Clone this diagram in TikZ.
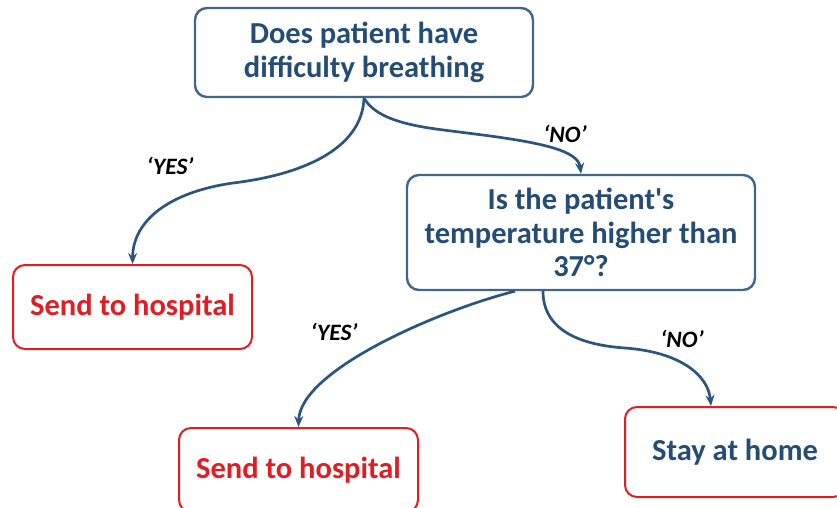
\documentclass[tikz,border=0pt]{standalone}
\usepackage{fontspec}
\setmainfont{Carlito}
\usetikzlibrary{arrows.meta}
\definecolor{qblue}{RGB}{36,76,116}
\definecolor{qedge}{RGB}{66,102,138}
\definecolor{ared}{RGB}{222,30,36}
\definecolor{aline}{RGB}{44,84,124}
\begin{document}
\begin{tikzpicture}[x=1pt,y=-1pt,
  question/.style={draw=qedge, line width=2.4pt, rounded corners=12pt, text=qblue,
    font=\fontsize{30.5}{33.5}\selectfont\bfseries, align=center, inner sep=0pt},
  outcome/.style={draw=ared, line width=2pt, rounded corners=12pt,
    font=\fontsize{30.5}{33.5}\selectfont\bfseries, inner sep=0pt},
  link/.style={draw=aline, line width=2.7pt, -{Stealth[length=11pt,width=9pt]}},
  answer/.style={font=\fontsize{23.5}{26}\selectfont\bfseries\itshape}]
\useasboundingbox (0,0) rectangle (837,508);

% decision boxes
\node[question, minimum width=338pt, minimum height=89pt] (breath) at (364,52.5)
  {Does patient have\\difficulty breathing};
\node[question, minimum width=348pt, minimum height=115pt] (temp) at (581,232.5)
  {Is the patient\textquotesingle s\\temperature higher than\\37°?};

% outcomes
\node[outcome, text=ared, minimum width=239pt, minimum height=84pt] (hospA) at (132.5,307)
  {Send to hospital};
\node[outcome, text=ared, minimum width=239pt, minimum height=84pt] (hospB) at (298.5,470)
  {Send to hospital};
\node[outcome, text=qblue, minimum width=220pt, minimum height=90pt] (home) at (735,452)
  {Stay at home};

% attachment points off the box centres
\coordinate (tempL) at ([xshift=-66pt]temp.south);
\coordinate (tempR) at ([xshift=-38pt]temp.south);
\coordinate (homeT) at ([xshift=-24pt]home.north);

% connectors
\draw[link] (breath.south) .. controls (362,150) and (300,175) .. (233,183)
  .. controls (170,192) and (133,220) .. (hospA.north);
\draw[link] (breath.south) .. controls (380,125) and (430,128) .. (467,133)
  .. controls (540,142) and (578,150) .. (temp.north);
\draw[link] (tempL) .. controls (440,310) and (300,370) .. (hospB.north);
\draw[link] (tempR) .. controls (543,330) and (580,345) .. (625,348)
  .. controls (680,352) and (708,375) .. (homeT);

% branch labels
\node[answer] (yesA) at (170,166) {‘YES’};
\node[answer] (noA) at (565,134) {‘NO’};
\node[answer] (yesB) at (334,332) {‘YES’};
\node[answer] (noB) at (682,339) {‘NO’};
\end{tikzpicture}
\end{document}
